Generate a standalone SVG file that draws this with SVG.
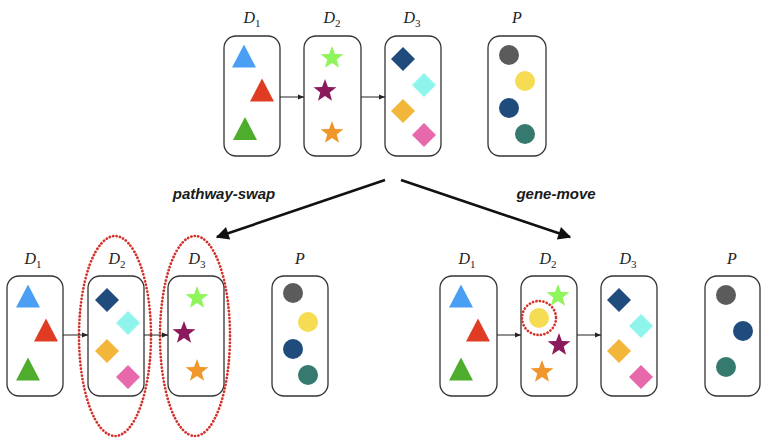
<svg xmlns="http://www.w3.org/2000/svg" xmlns:xlink="http://www.w3.org/1999/xlink" width="761" height="438" viewBox="0 0 761 438">
  <style>
    .box { fill: #ffffff; stroke: #333333; stroke-width: 1.3; }
    .lbl { font-family: "Liberation Serif", "DejaVu Serif", serif; font-style: italic; font-size: 16px; fill: #222222; text-anchor: middle; }
    .sub { font-style: normal; font-size: 11px; }
    .link { stroke: #222222; stroke-width: 1; fill: none; marker-end: url(#smallHead); }
    .big { stroke: #111111; stroke-width: 2.6; fill: none; marker-end: url(#bigHead); }
    .op { font-family: "Liberation Sans", Arial, sans-serif; font-weight: bold; font-style: italic; font-size: 15px; fill: #1a1a1a; text-anchor: middle; }
    .sel { fill: none; stroke: #d3312a; stroke-width: 2.7; stroke-dasharray: 0.1 3.4; stroke-linecap: round; }
  </style>
  <defs>
    <marker id="smallHead" viewBox="0 0 10 10" refX="10" refY="5" markerWidth="6" markerHeight="6" markerUnits="userSpaceOnUse" orient="auto">
      <path d="M0,1 L10,5 L0,9 Z" fill="#222222"/>
    </marker>
    <marker id="bigHead" viewBox="0 0 10 10" refX="9" refY="5" markerWidth="16" markerHeight="13" markerUnits="userSpaceOnUse" orient="auto">
      <path d="M0,0 L10,5 L0,10 Z" fill="#111111"/>
    </marker>
    <path id="tri" d="M0,-12 L12,11 L-12,11 Z"/>
    <path id="dia" d="M0,-12 L12,0 L0,12 L-12,0 Z"/>
    <path id="star" d="M0,-12 L2.94,-4.05 L11.41,-3.71 L4.76,1.55 L7.05,9.71 L0,5 L-7.05,9.71 L-4.76,1.55 L-11.41,-3.71 L-2.94,-4.05 Z"/>
    <circle id="dot" r="10"/>
  </defs>

  <!-- top row: original assignment -->
  <g id="top-D1">
    <text class="lbl" x="252" y="23">D<tspan class="sub" dy="4">1</tspan></text>
    <rect class="box" x="224" y="36" width="56" height="120" rx="12"/>
    <use xlink:href="#tri" x="244" y="56.5" fill="#4a9ff5"/>
    <use xlink:href="#tri" x="262" y="90.5" fill="#e03c24"/>
    <use xlink:href="#tri" x="245" y="129" fill="#4fad2e"/>
  </g>
  <g id="top-D2">
    <text class="lbl" x="332" y="23">D<tspan class="sub" dy="4">2</tspan></text>
    <rect class="box" x="304" y="36" width="57" height="120" rx="12"/>
    <use xlink:href="#star" x="332" y="58" fill="#8ef55a"/>
    <use xlink:href="#star" x="325" y="91" fill="#8b1a5c"/>
    <use xlink:href="#star" x="332" y="133" fill="#f0962a"/>
  </g>
  <g id="top-D3">
    <text class="lbl" x="412" y="23">D<tspan class="sub" dy="4">3</tspan></text>
    <rect class="box" x="385" y="36" width="56" height="120" rx="12"/>
    <use xlink:href="#dia" x="403" y="59" fill="#1f4b7d"/>
    <use xlink:href="#dia" x="424" y="85" fill="#8ff5ec"/>
    <use xlink:href="#dia" x="403" y="111" fill="#f2b73a"/>
    <use xlink:href="#dia" x="424" y="135" fill="#e868ac"/>
  </g>
  <g id="top-P">
    <text class="lbl" x="517" y="23">P</text>
    <rect class="box" x="488" y="36" width="58" height="120" rx="12"/>
    <use xlink:href="#dot" x="509" y="55" fill="#5b5b5b"/>
    <use xlink:href="#dot" x="525" y="81" fill="#f5dc52"/>
    <use xlink:href="#dot" x="509" y="108" fill="#1f4b7d"/>
    <use xlink:href="#dot" x="525" y="134" fill="#36796f"/>
  </g>

  <!-- bottom left: pathway-swap result -->
  <g id="swap-D1">
    <text class="lbl" x="33" y="264">D<tspan class="sub" dy="4">1</tspan></text>
    <rect class="box" x="7" y="276" width="56" height="120" rx="12"/>
    <use xlink:href="#tri" x="28" y="296.5" fill="#4a9ff5"/>
    <use xlink:href="#tri" x="46" y="330.5" fill="#e03c24"/>
    <use xlink:href="#tri" x="28" y="369.5" fill="#4fad2e"/>
  </g>
  <g id="swap-D2">
    <text class="lbl" x="117" y="264">D<tspan class="sub" dy="4">2</tspan></text>
    <rect class="box" x="88" y="276" width="56" height="120" rx="12"/>
    <use xlink:href="#dia" x="107" y="300" fill="#1f4b7d"/>
    <use xlink:href="#dia" x="128" y="323" fill="#8ff5ec"/>
    <use xlink:href="#dia" x="107" y="351" fill="#f2b73a"/>
    <use xlink:href="#dia" x="128" y="377" fill="#e868ac"/>
  </g>
  <g id="swap-D3">
    <text class="lbl" x="197" y="264">D<tspan class="sub" dy="4">3</tspan></text>
    <rect class="box" x="168" y="276" width="56" height="120" rx="12"/>
    <use xlink:href="#star" x="197" y="298" fill="#8ef55a"/>
    <use xlink:href="#star" x="184" y="333" fill="#8b1a5c"/>
    <use xlink:href="#star" x="197" y="371" fill="#f0962a"/>
  </g>
  <g id="swap-P">
    <text class="lbl" x="300" y="264">P</text>
    <rect class="box" x="272" y="276" width="56" height="120" rx="12"/>
    <use xlink:href="#dot" x="293" y="293" fill="#5b5b5b"/>
    <use xlink:href="#dot" x="308" y="322" fill="#f5dc52"/>
    <use xlink:href="#dot" x="293" y="349" fill="#1f4b7d"/>
    <use xlink:href="#dot" x="308" y="375" fill="#36796f"/>
  </g>

  <!-- bottom right: gene-move result -->
  <g id="move-D1">
    <text class="lbl" x="467" y="264">D<tspan class="sub" dy="4">1</tspan></text>
    <rect class="box" x="440" y="276" width="57" height="120" rx="12"/>
    <use xlink:href="#tri" x="461" y="296.5" fill="#4a9ff5"/>
    <use xlink:href="#tri" x="478" y="330.5" fill="#e03c24"/>
    <use xlink:href="#tri" x="461" y="369.5" fill="#4fad2e"/>
  </g>
  <g id="move-D2">
    <text class="lbl" x="548" y="264">D<tspan class="sub" dy="4">2</tspan></text>
    <rect class="box" x="521" y="276" width="56" height="120" rx="12"/>
    <use xlink:href="#star" x="558" y="296" fill="#8ef55a"/>
    <use xlink:href="#dot" x="539" y="318" fill="#f5dc52"/>
    <circle class="sel" cx="539" cy="318" r="17"/>
    <use xlink:href="#star" x="559" y="345" fill="#8b1a5c"/>
    <use xlink:href="#star" x="542" y="372" fill="#f0962a"/>
  </g>
  <g id="move-D3">
    <text class="lbl" x="628" y="264">D<tspan class="sub" dy="4">3</tspan></text>
    <rect class="box" x="601" y="276" width="56" height="120" rx="12"/>
    <use xlink:href="#dia" x="619" y="300" fill="#1f4b7d"/>
    <use xlink:href="#dia" x="641" y="326" fill="#8ff5ec"/>
    <use xlink:href="#dia" x="619" y="351" fill="#f2b73a"/>
    <use xlink:href="#dia" x="641" y="377" fill="#e868ac"/>
  </g>
  <g id="move-P">
    <text class="lbl" x="732" y="264">P</text>
    <rect class="box" x="705" y="276" width="55" height="120" rx="12"/>
    <use xlink:href="#dot" x="726" y="295" fill="#5b5b5b"/>
    <use xlink:href="#dot" x="743" y="331" fill="#1f4b7d"/>
    <use xlink:href="#dot" x="726" y="367" fill="#36796f"/>
  </g>

  <!-- selection marks for the swapped pathways -->
  <g id="swap-selection">
    <ellipse class="sel" cx="115" cy="336" rx="36" ry="100"/>
    <ellipse class="sel" cx="195" cy="336" rx="35" ry="100"/>
  </g>

  <!-- connectors -->
  <g id="connectors">
    <line class="link" x1="280" y1="97" x2="304" y2="97"/>
    <line class="link" x1="361" y1="97" x2="385" y2="97"/>
    <line class="link" x1="63" y1="335" x2="88" y2="335"/>
    <line class="link" x1="144" y1="335" x2="168" y2="335"/>
    <line class="link" x1="497" y1="335" x2="521" y2="335"/>
    <line class="link" x1="577" y1="335" x2="601" y2="335"/>
    <line class="big" x1="385" y1="180" x2="217" y2="237"/>
    <line class="big" x1="401" y1="180" x2="570" y2="237"/>
    <text class="op" x="224" y="199">pathway-swap</text>
    <text class="op" x="556" y="199">gene-move</text>
  </g>
</svg>
